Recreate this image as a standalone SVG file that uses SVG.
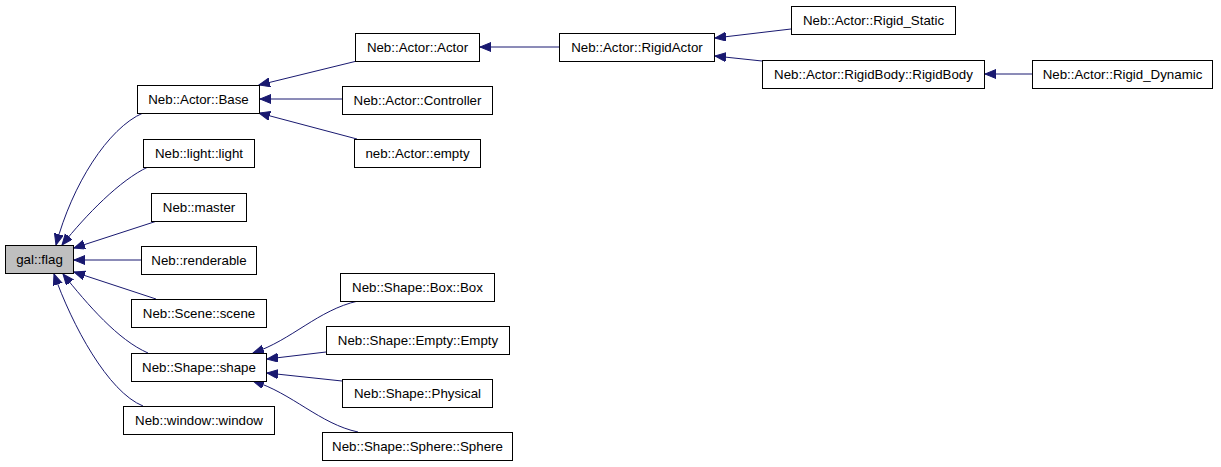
<svg xmlns="http://www.w3.org/2000/svg" width="1221" height="467" viewBox="0 0 1221 467">
<style>
.n rect{fill:#ffffff;stroke:#000000;stroke-width:1}
.n text{font-family:"Liberation Sans",Arial,sans-serif;font-size:13.3px;text-anchor:middle;fill:#000000}
#flag rect{fill:#bfbfbf}
.e path{fill:none;stroke:#191970;stroke-width:1;marker-end:url(#arr)}
</style>
<defs>
<marker id="arr" markerUnits="userSpaceOnUse" markerWidth="12" markerHeight="10" refX="11" refY="4.5" orient="auto">
<path d="M0,0 L11,4.5 L0,9 z" fill="#191970" stroke="#191970" stroke-width="1"/>
</marker>
</defs>
<rect width="1221" height="467" fill="#ffffff"/>
<g id="edges" class="e">
<path d="M143,113 C108,128 72,185 56,245"/>
<path d="M148,167 C120,180 86,215 62,245"/>
<path d="M157,221 L74,248"/>
<path d="M141,260 L74,260"/>
<path d="M156,299 L74,272"/>
<path d="M148,353 C118,340 88,305 63,274"/>
<path d="M143,406 C108,392 72,325 54,274"/>
<path d="M357,61 L259,85"/>
<path d="M342,99 L260,99"/>
<path d="M357,139 L259,113"/>
<path d="M559,47 L480,47"/>
<path d="M791,29 L715,38"/>
<path d="M762,61 L715,56"/>
<path d="M1032,74 L985,74"/>
<path d="M358,301 C318,310 292,340 253,353"/>
<path d="M326,352 L267,359"/>
<path d="M342,381 L267,373"/>
<path d="M358,432 C320,424 292,393 253,381"/>
</g>
<g id="flag" class="n"><rect x="5.5" y="245.5" width="68" height="28"/><text x="39.5" y="264">gal::flag</text></g>
<g id="base" class="n"><rect x="137.5" y="85.5" width="122" height="28"/><text x="198.5" y="104">Neb::Actor::Base</text></g>
<g id="light" class="n"><rect x="143.5" y="139.5" width="111" height="28"/><text x="199" y="158">Neb::light::light</text></g>
<g id="master" class="n"><rect x="151.5" y="193.5" width="95" height="28"/><text x="199" y="212">Neb::master</text></g>
<g id="renderable" class="n"><rect x="141.5" y="246.5" width="115" height="28"/><text x="199" y="265">Neb::renderable</text></g>
<g id="scene" class="n"><rect x="131.5" y="299.5" width="135" height="28"/><text x="199" y="318">Neb::Scene::scene</text></g>
<g id="shape" class="n"><rect x="131.5" y="353.5" width="135" height="28"/><text x="199" y="372">Neb::Shape::shape</text></g>
<g id="window" class="n"><rect x="123.5" y="406.5" width="151" height="28"/><text x="199" y="425">Neb::window::window</text></g>
<g id="actor" class="n"><rect x="355.5" y="33.5" width="124" height="28"/><text x="417.5" y="52">Neb::Actor::Actor</text></g>
<g id="controller" class="n"><rect x="342.5" y="86.5" width="150" height="28"/><text x="417.5" y="105">Neb::Actor::Controller</text></g>
<g id="empty" class="n"><rect x="354.5" y="139.5" width="126" height="28"/><text x="417.5" y="158">neb::Actor::empty</text></g>
<g id="rigidactor" class="n"><rect x="559.5" y="33.5" width="155" height="28"/><text x="637" y="52">Neb::Actor::RigidActor</text></g>
<g id="rigidstatic" class="n"><rect x="791.5" y="6.5" width="164" height="28"/><text x="873.5" y="25">Neb::Actor::Rigid_Static</text></g>
<g id="rigidbody" class="n"><rect x="762.5" y="60.5" width="222" height="28"/><text x="873.5" y="79">Neb::Actor::RigidBody::RigidBody</text></g>
<g id="rigiddynamic" class="n"><rect x="1032.5" y="60.5" width="180" height="28"/><text x="1122.5" y="79">Neb::Actor::Rigid_Dynamic</text></g>
<g id="box" class="n"><rect x="340.5" y="273.5" width="154" height="28"/><text x="417.5" y="292">Neb::Shape::Box::Box</text></g>
<g id="shempty" class="n"><rect x="326.5" y="326.5" width="183" height="28"/><text x="418" y="345">Neb::Shape::Empty::Empty</text></g>
<g id="physical" class="n"><rect x="342.5" y="379.5" width="150" height="28"/><text x="417.5" y="398">Neb::Shape::Physical</text></g>
<g id="sphere" class="n"><rect x="322.5" y="432.5" width="190" height="28"/><text x="417.5" y="451">Neb::Shape::Sphere::Sphere</text></g>
</svg>
